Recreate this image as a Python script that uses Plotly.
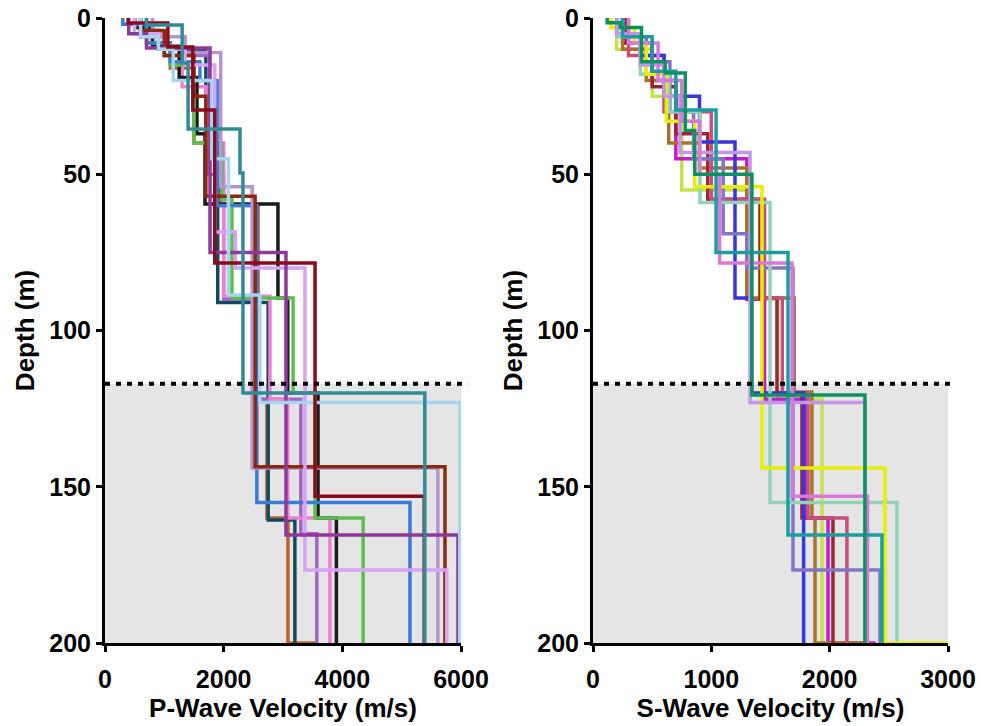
import plotly.graph_objects as go

# Layer tops (m) and interval velocities (m/s) for each P-wave profile
P_TOPS = [
    [0, 3, 8, 16, 40, 60, 122, 160, 200],
    [0, 4, 10, 40, 91, 160.6],
    [0, 6, 12, 50, 90, 122, 165],
    [0, 5, 12, 22, 40, 89, 122, 160],
    [0, 3, 9, 19, 37, 59.5, 89.6, 120, 160],
    [0, 8, 15, 40, 58, 89.6, 120, 160],
    [0, 2, 8, 14, 20, 60, 155],
    [0, 6, 11, 54, 144],
    [0, 4, 12, 25, 57, 143.6],
    [0, 5, 10, 15, 68.5, 80, 176.6],
    [0, 5, 9.6, 75, 165.4],
    [0, 6, 10, 20, 45, 88.6, 123],
    [0, 1.6, 9.3, 29.4, 78.4, 153],
    [0, 2.2, 14.4, 35.5, 49.6, 120],
]
P_VEL = [
    [500, 800, 1100, 1500, 1950, 2580, 2730, 3084, 3540],
    [600, 900, 1700, 1900, 2750, 3200],
    [600, 1000, 1750, 2000, 2600, 3300, 3570],
    [700, 1000, 1300, 1700, 2000, 2780, 3080, 3790],
    [500, 800, 1250, 1550, 1685, 2915, 3080, 3590, 3900],
    [700, 1100, 1500, 1970, 2140, 3170, 3540, 4350],
    [300, 700, 1100, 1600, 1890, 2560, 5140],
    [800, 1350, 1950, 2480, 5610],
    [600, 1000, 1500, 1700, 2530, 5730],
    [500, 900, 1350, 1850, 2200, 3370, 5760],
    [400, 700, 1770, 3050, 5950],
    [600, 900, 1150, 1800, 2080, 2610, 5980],
    [390, 1060, 1480, 1850, 3540, 5380],
    [700, 1300, 1400, 2275, 2325, 5390],
]
P_COLORS = ["#c0602e", "#0e4c5c", "#a366c6", "#ee7fd4", "#1a1a1a", "#5cbe4e",
            "#3a7bd5", "#b595d0", "#8b2a10", "#d9a2f5", "#8e3a98", "#a6d6ee",
            "#8b0a1e", "#318a96"]

# Layer tops (m) and interval velocities (m/s) for each S-wave profile
S_TOPS = [
    [0, 10, 25, 55, 90, 122],
    [0, 8, 20, 45, 90, 122, 160, 200],
    [0, 10, 20, 40, 48, 89.6, 119.7, 160, 200],
    [0, 8, 22, 37, 58, 89.6, 120, 160],
    [0, 12, 30, 58, 89.6, 120, 160],
    [0, 5, 12, 25, 39.7, 89.6, 120],
    [0, 6, 14, 30, 45, 69, 80, 176.6],
    [0, 6, 18, 30, 59, 155],
    [0, 3, 8, 18, 33, 54, 144, 200],
    [0, 5, 15, 25, 43, 123],
    [0, 8, 20, 33, 50, 78.4, 153],
    [0, 6, 17, 29.4, 75, 165.4],
    [0, 1.5, 3, 14, 17.6, 36, 50, 120.6],
]
S_VEL = [
    [200, 500, 750, 1300, 1560, 1935],
    [250, 500, 700, 1300, 1450, 1800, 1986, 2390],
    [250, 450, 640, 900, 1300, 1700, 1850, 1876, 2280],
    [280, 500, 700, 970, 1411, 1555, 1766, 2028],
    [300, 600, 1000, 1450, 1600, 1817, 2146],
    [200, 400, 600, 900, 1200, 1340, 1780],
    [250, 450, 650, 850, 1100, 1300, 1690, 2425],
    [200, 400, 640, 904, 1496, 2569],
    [150, 350, 450, 620, 860, 1428, 2467, 2990],
    [200, 400, 600, 735, 1327, 2300],
    [300, 550, 750, 900, 1070, 1682, 2320],
    [250, 500, 700, 1040, 1648, 2442],
    [120, 230, 410, 610, 780, 860, 1343, 2298],
]
S_COLORS = ["#c6e04e", "#c21ec8", "#a8742c", "#9b2435", "#c4507e", "#3b35d8",
            "#8275c8", "#93d2b6", "#e6f000", "#c595ea", "#d878d8", "#1a9ea0",
            "#0e9160"]

MAX_DEPTH = 200
BEDROCK_DEPTH = 117
P_TICKS = [0, 2000, 4000, 6000]
S_TICKS = [0, 1000, 2000, 3000]
DEPTH_TICKS = [0, 50, 100, 150, 200]

FONT = "Liberation Sans, Arial, sans-serif"

fig = go.Figure()


def add_profiles(tops_list, vel_list, colors, xaxis):
    for tops, vels, col in zip(tops_list, vel_list, colors):
        xs = list(vels)
        ys = list(tops)
        if ys[-1] < MAX_DEPTH:
            xs.append(vels[-1])
            ys.append(MAX_DEPTH)
        fig.add_trace(go.Scatter(
            x=xs, y=ys, mode="lines", line=dict(color=col, width=3.5, shape="vh"),
            xaxis=xaxis, yaxis="y" if xaxis == "x" else "y2",
            showlegend=False, hoverinfo="skip"))


add_profiles(P_TOPS, P_VEL, P_COLORS, "x")
add_profiles(S_TOPS, S_VEL, S_COLORS, "x2")

H, W = 726, 981
y_dom = [1 - 643 / H, 1 - 18 / H]

axis_common = dict(
    showline=True, linecolor="black", linewidth=3, ticks="outside",
    tickwidth=3, ticklen=6, tickcolor="black", showgrid=False, zeroline=False,
    automargin=False,
    tickfont=dict(family=FONT, size=25, color="black", weight="bold"),
    title_font=dict(family=FONT, size=26, color="black", weight="bold"),
)
x_extra = dict(ticklabelstandoff=6)

fig.update_layout(
    width=W, height=H, margin=dict(l=0, r=0, t=0, b=0),
    paper_bgcolor="white", plot_bgcolor="white",
    xaxis=dict(domain=[105 / W, 461 / W], range=[0, 6000], tickvals=P_TICKS,
               title=dict(text="P-Wave Velocity (m/s)", standoff=6),
               anchor="y", **axis_common, **x_extra),
    yaxis=dict(domain=y_dom, range=[MAX_DEPTH, 0], tickvals=DEPTH_TICKS,
               title=dict(text="Depth (m)", standoff=8), anchor="x",
               **axis_common),
    xaxis2=dict(domain=[593 / W, 948 / W], range=[0, 3000], tickvals=S_TICKS,
                title=dict(text="S-Wave Velocity (m/s)", standoff=6),
                anchor="y2", **axis_common, **x_extra),
    yaxis2=dict(domain=y_dom, range=[MAX_DEPTH, 0], tickvals=DEPTH_TICKS,
                title=dict(text="Depth (m)", standoff=8), anchor="x2",
                **axis_common),
)

# shaded bedrock zone and its dotted top boundary in both panels
for xr, yr in (("x", "y"), ("x2", "y2")):
    fig.add_shape(type="rect", xref=f"{xr} domain", yref=yr, x0=0, x1=1,
                  y0=BEDROCK_DEPTH, y1=MAX_DEPTH, fillcolor="#e5e5e5",
                  line_width=0, layer="below")
    fig.add_shape(type="line", xref=f"{xr} domain", yref=yr, x0=0, x1=1.02,
                  y0=BEDROCK_DEPTH, y1=BEDROCK_DEPTH,
                  line=dict(color="black", width=4, dash="5px,6px"),
                  layer="above")

fig.write_html("out.html")
